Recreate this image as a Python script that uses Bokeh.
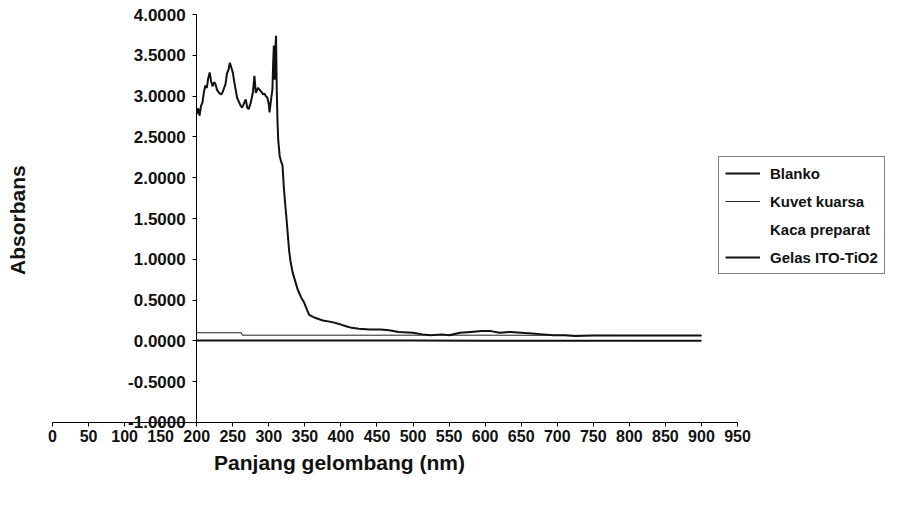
from bokeh.plotting import figure
from bokeh.models import Range1d, FixedTicker, NumeralTickFormatter, Legend, LegendItem, Label
from bokeh.embed import file_html
from bokeh.resources import INLINE

# ---- data ----
ito_x = [200, 202, 204, 206, 208, 210, 212, 214, 216, 218, 220, 222, 224, 226, 228, 231, 234, 236, 238, 240,
         242, 244, 246, 248, 250, 252, 254, 256, 259, 261, 263, 266, 268, 270, 272, 275, 278, 280, 282, 285,
         287, 290, 292, 294, 296, 298, 300, 301, 303, 305, 306, 307, 308, 309, 310, 311, 312, 313, 315, 317,
         319, 321, 323, 325, 328, 330, 333, 337, 340, 345, 349, 353, 356, 360, 365, 375, 388, 400, 407, 415,
         425, 440, 455, 467, 480, 500, 513, 525, 540, 550, 565, 580, 595, 608, 620, 635, 650, 665, 680, 695,
         710, 725, 750, 800, 850, 900]
ito_y = [2.78, 2.85, 2.76, 2.88, 2.92, 3.05, 3.13, 3.10, 3.22, 3.29, 3.18, 3.12, 3.17, 3.15, 3.08, 3.04, 3.02, 3.05, 3.10, 3.15,
         3.28, 3.32, 3.41, 3.35, 3.29, 3.18, 3.08, 2.98, 2.92, 2.88, 2.86, 2.92, 2.96, 2.86, 2.84, 2.92, 3.05, 3.25, 3.04, 3.10,
         3.08, 3.05, 3.02, 3.03, 3.00, 2.98, 2.90, 2.80, 2.95, 3.08, 3.40, 3.62, 3.20, 3.55, 3.74, 3.08, 2.70, 2.47, 2.27, 2.20,
         2.15, 1.86, 1.65, 1.45, 1.12, 0.98, 0.84, 0.72, 0.63, 0.53, 0.47, 0.38, 0.32, 0.30, 0.28, 0.25, 0.23, 0.20, 0.18, 0.16,
         0.15, 0.14, 0.14, 0.13, 0.11, 0.10, 0.08, 0.07, 0.08, 0.07, 0.10, 0.11, 0.12, 0.12, 0.10, 0.11, 0.10, 0.09, 0.08, 0.07,
         0.07, 0.06, 0.065, 0.065, 0.065, 0.065]

kuvet_x = [200, 262, 263, 400, 500, 600, 700, 800, 900]
kuvet_y = [0.10, 0.10, 0.07, 0.07, 0.07, 0.07, 0.068, 0.066, 0.066]

blanko_x = [200, 300, 400, 500, 600, 700, 800, 900]
blanko_y = [0.005, 0.005, 0.004, 0.004, 0.003, 0.003, 0.003, 0.003]

kaca_x = [200, 300, 400, 500, 600, 700, 800, 900]
kaca_y = [0.04, 0.04, 0.04, 0.04, 0.04, 0.04, 0.04, 0.04]

series_names = ["Blanko", "Kuvet kuarsa", "Kaca preparat", "Gelas ITO-TiO2"]
x_ticks = list(range(0, 951, 50))
y_ticks = [-1.0, -0.5, 0.0, 0.5, 1.0, 1.5, 2.0, 2.5, 3.0, 3.5, 4.0]
x_axis_bounds = (0, 950)
y_axis_bounds = (-1, 4)

FONT = "Liberation Sans"

# frame covers the whole canvas; axes are drawn at fixed positions inside it
p = figure(width=886, height=492, output_backend="svg", toolbar_location=None,
           x_range=Range1d(-72.1, 1156.6), y_range=Range1d(-1.858, 4.172),
           min_border_left=0, min_border_right=0, min_border_top=0, min_border_bottom=0)
p.outline_line_color = None
p.xgrid.visible = False
p.ygrid.visible = False
p.background_fill_color = "white"

p.xaxis.ticker = FixedTicker(ticks=x_ticks)
p.yaxis.ticker = FixedTicker(ticks=y_ticks)
p.yaxis.formatter = NumeralTickFormatter(format="0.0000")
p.yaxis.fixed_location = 200
p.xaxis.fixed_location = -1
p.xaxis.bounds = x_axis_bounds
p.yaxis.bounds = y_axis_bounds
for ax in (p.xaxis, p.yaxis):
    ax.minor_tick_line_color = None
    ax.major_tick_in = 0
    ax.major_tick_out = 4
    ax.axis_line_color = "black"
    ax.major_tick_line_color = "black"
    ax.major_label_text_font = FONT
    ax.major_label_text_font_style = "bold"
    ax.major_label_text_color = "#111111"
p.yaxis.major_label_text_font_size = "17px"
p.xaxis.major_label_text_font_size = "16px"
p.yaxis.major_label_standoff = 7
p.xaxis.major_label_standoff = 4

r_kaca = p.line(kaca_x, kaca_y, line_color="white", line_width=1)
r_kuvet = p.line(kuvet_x, kuvet_y, line_color="#222222", line_width=1)
r_blanko = p.line(blanko_x, blanko_y, line_color="#111111", line_width=2)
r_ito = p.line(ito_x, ito_y, line_color="#111111", line_width=2)

legend = Legend(items=[
    LegendItem(label=series_names[0], renderers=[r_blanko]),
    LegendItem(label=series_names[1], renderers=[r_kuvet]),
    LegendItem(label=series_names[2], renderers=[r_kaca]),
    LegendItem(label=series_names[3], renderers=[r_ito]),
], location=(718, 218))
legend.border_line_color = "black"
legend.border_line_width = 1
legend.background_fill_alpha = 1
legend.label_text_font = FONT
legend.label_text_font_style = "bold"
legend.label_text_font_size = "15px"
legend.label_text_color = "#111111"
legend.glyph_width = 35
legend.glyph_height = 20
legend.label_height = 20
legend.label_standoff = 10
legend.spacing = 8
legend.padding = 6
legend.margin = 0
p.add_layout(legend, "center")

p.add_layout(Label(x=-48.5, y=1.48, text="Absorbans", angle=1.5707963, text_align="center",
                   text_baseline="middle", text_font=FONT, text_font_style="bold",
                   text_font_size="21px", text_color="#111111"))
p.add_layout(Label(x=398, y=-1.49, text="Panjang gelombang (nm)", text_align="center",
                   text_baseline="middle", text_font=FONT, text_font_style="bold",
                   text_font_size="21px", text_color="#111111"))

open("out.html", "w").write(file_html(p, INLINE))
